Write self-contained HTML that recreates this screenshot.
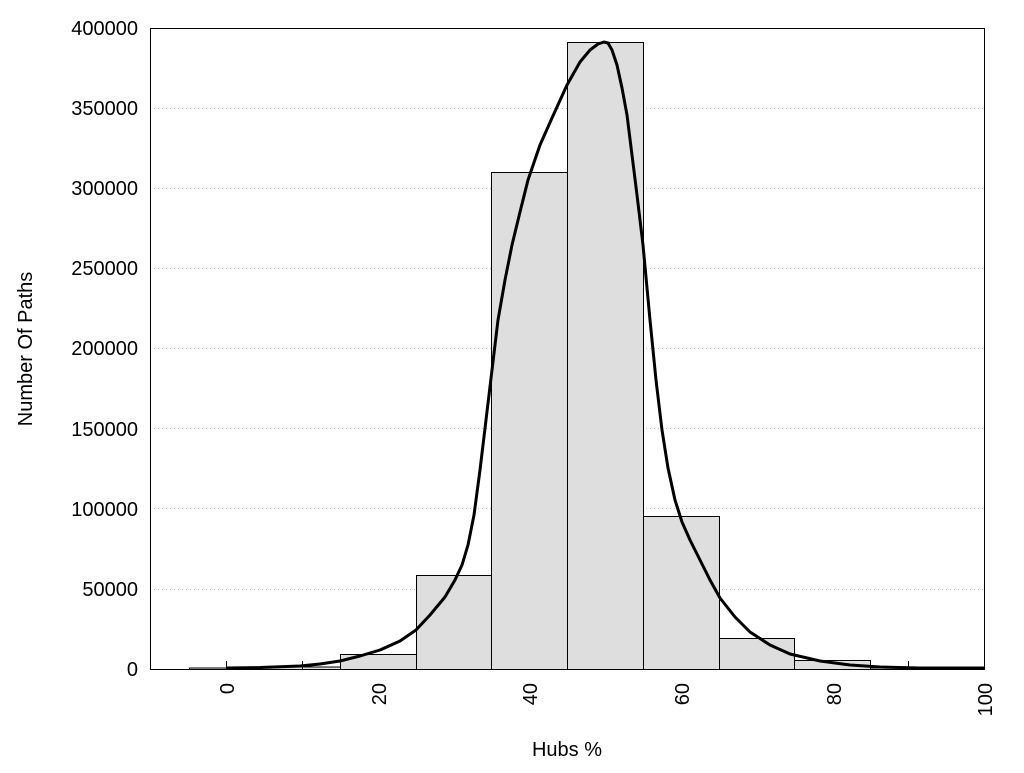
<!DOCTYPE html>
<html><head><meta charset="utf-8"><style>
body{margin:0;background:#fff}
svg text{font-family:"Liberation Sans",sans-serif;font-size:20px;fill:#000}
</style></head><body>
<svg width="1024" height="768" viewBox="0 0 1024 768" xmlns="http://www.w3.org/2000/svg">
<rect width="1024" height="768" fill="#fff"/>
<g stroke="#bbb" stroke-width="1" stroke-dasharray="1,3">
<line x1="150" x2="985" y1="108.5" y2="108.5"/>
<line x1="150" x2="985" y1="188.5" y2="188.5"/>
<line x1="150" x2="985" y1="268.5" y2="268.5"/>
<line x1="150" x2="985" y1="348.5" y2="348.5"/>
<line x1="150" x2="985" y1="428.5" y2="428.5"/>
<line x1="150" x2="985" y1="508.5" y2="508.5"/>
<line x1="150" x2="985" y1="589.5" y2="589.5"/>
</g>
<g stroke="#000" stroke-width="1" fill="#dedede">
<rect x="189.5" y="668" width="37" height="1.5"/>
<rect x="226.5" y="667" width="114" height="2.5"/>
<rect x="340.5" y="654.5" width="76" height="15"/>
<rect x="416.5" y="575.5" width="75" height="94"/>
<rect x="491.5" y="172.5" width="76" height="497"/>
<rect x="567.5" y="42.5" width="76" height="627"/>
<rect x="643.5" y="516.5" width="76" height="153"/>
<rect x="719.5" y="638.5" width="75" height="31"/>
<rect x="794.5" y="660.5" width="76" height="9"/>
<rect x="870.5" y="668" width="76" height="1.5"/>
</g>
<g stroke="#000" stroke-width="1">
<line x1="226.5" x2="226.5" y1="661" y2="669"/>
<line x1="302.5" x2="302.5" y1="661" y2="669"/>
<line x1="908.5" x2="908.5" y1="661" y2="669"/>
</g>
<polyline points="227,668 260,667.5 300,666 320,664 340,661 360,656 380,650 400,641 416,630 430,615 445,597 455,580 462,565 468,545 474,515 480,470 486,420 492,370 498,320 505,280 512,245 520,212 528,180 540,145 552,118 567,85 580,62 590,50 598,44 604,42 608,43 612,50 617,65 622,88 627,115 632,155 637,195 643,245 650,320 656,380 662,430 668,468 675,500 682,522 690,540 700,560 710,580 720,598 735,617 750,632 770,645 790,654 820,661 850,665 880,667 920,668 985,668"
 fill="none" stroke="#000" stroke-width="3" stroke-linejoin="round"/>
<rect x="150.5" y="28.5" width="834" height="641" fill="none" stroke="#000" stroke-width="1"/>
<g text-anchor="end">
<text x="138" y="676">0</text>
<text x="138" y="596">50000</text>
<text x="138" y="516">100000</text>
<text x="138" y="436">150000</text>
<text x="138" y="355">200000</text>
<text x="138" y="275">250000</text>
<text x="138" y="195">300000</text>
<text x="138" y="115">350000</text>
<text x="138" y="35">400000</text>
</g>
<g text-anchor="end">
<text transform="translate(234,683) rotate(-90)">0</text>
<text transform="translate(386,683) rotate(-90)">20</text>
<text transform="translate(537,683) rotate(-90)">40</text>
<text transform="translate(689,683) rotate(-90)">60</text>
<text transform="translate(841,683) rotate(-90)">80</text>
<text transform="translate(992,683) rotate(-90)">100</text>
</g>
<text x="567" y="756" text-anchor="middle">Hubs %</text>
<text transform="translate(32,349) rotate(-90)" text-anchor="middle">Number Of Paths</text>
</svg>
</body></html>
